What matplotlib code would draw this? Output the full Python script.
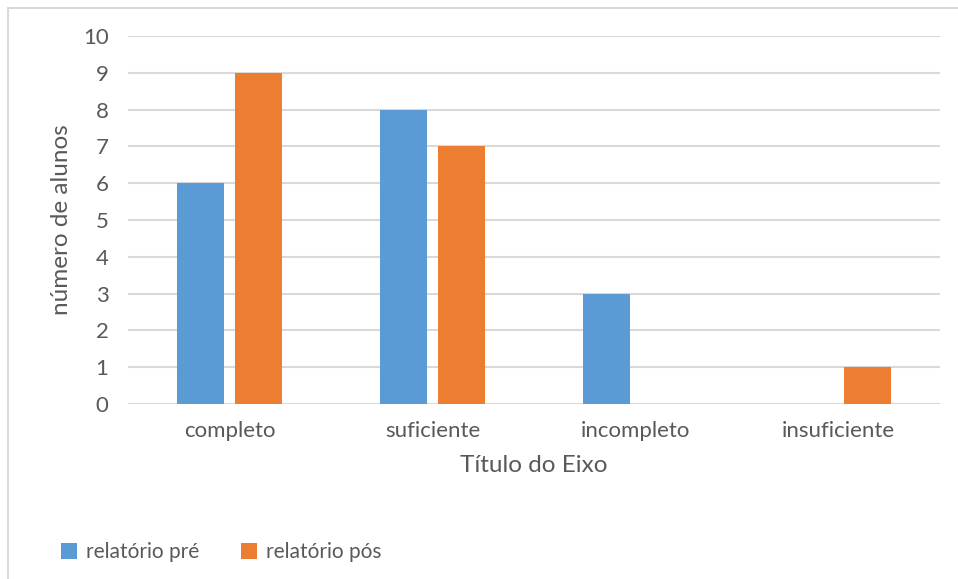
import matplotlib.pyplot as plt
import matplotlib.patches as mpatches
import numpy as np

categorias = ["completo", "suficiente", "incompleto", "insuficiente"]
pre = [6, 8, 3, 0]
pos = [9, 7, 0, 1]
yticks = list(range(0, 11))

plt.rcParams["font.family"] = ["Lato", "DejaVu Sans"]
cinza = "#595959"
W, H = 958, 579

fig = plt.figure(figsize=(W / 100, H / 100), dpi=100)
ax = fig.add_axes([128 / W, 1 - 404 / H, (940 - 128) / W, (404 - 36) / H])

x = np.arange(len(categorias))
largura = 0.227
desloc = 0.143
ax.bar(x - desloc, pre, largura, color="#5B9BD5", label="relatório pré", zorder=3)
ax.bar(x + desloc, pos, largura, color="#ED7D31", label="relatório pós", zorder=3)

ax.set_xlim(-0.5, len(categorias) - 0.5)
ax.set_ylim(0, 10)
ax.set_yticks(yticks)
ax.set_xticks(x)
ax.set_xticklabels(categorias)
ax.yaxis.grid(True, color="#D9D9D9", linewidth=1.5, zorder=0)
ax.set_axisbelow(True)
for s in ax.spines.values():
    s.set_visible(False)
ax.tick_params(axis="both", length=0, labelsize=16, labelcolor=cinza)
ax.tick_params(axis="y", pad=14)
ax.tick_params(axis="x", pad=12)

ax.set_ylabel("número de alunos", fontsize=17.5, color=cinza)
ax.yaxis.set_label_coords((72 - 128) / (940 - 128), 0.5)
ax.set_xlabel("Título do Eixo", fontsize=17.5, color=cinza, labelpad=10)

fig.legend(loc="center left", bbox_to_anchor=(42 / W, 1 - 552 / H), ncol=2,
           frameon=False, fontsize=15, labelcolor=cinza, handlelength=0.8,
           handleheight=0.8, handletextpad=0.4, columnspacing=2.0)

borda = mpatches.Rectangle((8 / W, -0.1), 1.2, 1 - 8 / H + 0.1, transform=fig.transFigure,
                           fill=False, edgecolor="#D9D9D9", linewidth=1.5)
fig.patches.append(borda)

fig.savefig("out.png", dpi=100)
